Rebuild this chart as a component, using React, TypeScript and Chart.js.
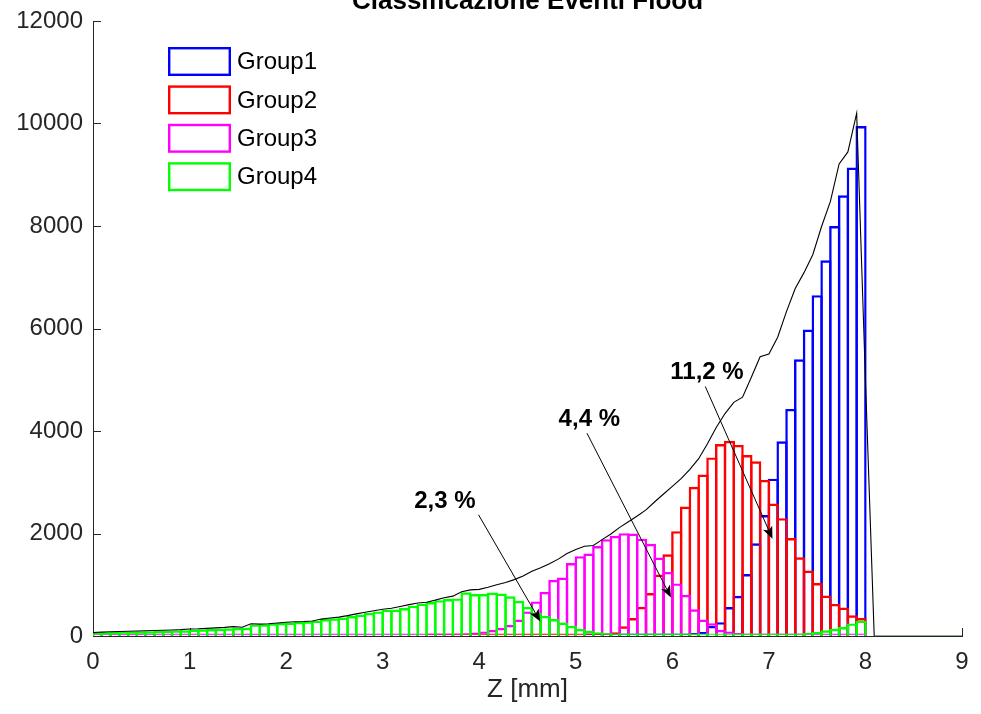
import React, { useEffect, useRef } from "react";
import { Chart, registerables } from "chart.js";

Chart.register(...registerables);

const FONT = '"Liberation Sans", Arial, Helvetica, sans-serif';

const titleText = "Classificazione Eventi Flood";
const xAxisTitle = "Z [mm]";
const groupNames = ["Group1", "Group2", "Group3", "Group4"];
const groupColors = ["#0000ff", "#ff0000", "#ff00ff", "#00ff00"];
const envelopeColor = "#000000";
const envelopeTailColor = "#1e5a1e";

// histogram bins: 88 bins over [0, 8]
const binRange = [0, 8];
const binCount = 88;

const xTicks = [0, 1, 2, 3, 4, 5, 6, 7, 8, 9];
const yTicks = [0, 2000, 4000, 6000, 8000, 10000, 12000];

// Group1 (blue)
const group1 = [
  null, null, null, null, null, null, null, null, null, null,
  null, null, null, null, null, null, null, null, null, null,
  null, null, null, null, null, null, null, null, null, null,
  null, null, null, null, null, null, null, null, null, null,
  null, null, null, null, null, null, null, null, null, null,
  null, null, null, null, null, null, 10, 15, 20, 20,
  20, 15, 15, 15, 20, 25, 30, 40, 60, 80,
  200, 270, 565, 785, 1210, 1810, 2360, 3070, 3800, 4430,
  5400, 5980, 6650, 7330, 8000, 8600, 9140, 9950,
];

// Group2 (red)
const group2 = [
  null, null, null, null, null, null, null, null, null, null,
  null, null, null, null, null, null, null, null, null, null,
  null, null, null, null, null, null, null, null, null, null,
  null, null, null, null, null, null, null, null, 5, 10,
  10, 10, 10, 10, 10, 10, 15, 15, 15, 15,
  15, 20, 20, 20, 20, 25, 30, 40, 50, 75,
  188, 351, 570, 838, 1200, 1595, 2045, 2526, 2910, 3150,
  3485, 3745, 3810, 3728, 3530, 3410, 3046, 2585, 2300, 1910,
  1536, 1276, 1033, 790, 626, 555, 405, 351,
];

// Group3 (magenta)
const group3 = [
  8, 8, 8, 8, 8, 8, 8, 8, 8, 8,
  8, 8, 8, 8, 8, 8, 8, 8, 8, 8,
  8, 8, 8, 8, 8, 8, 8, 8, 8, 8,
  8, 8, 8, 8, 8, 8, 8, 8, 15, 20,
  30, 40, 55, 70, 90, 120, 160, 220, 320, 480,
  675, 860, 1097, 1140, 1423, 1558, 1610, 1755, 1890, 1955,
  2007, 2000, 1900, 1800, 1530, 1250, 1025, 805, 520, 320,
  250, 120, 90, 60, 40, 30, 25, 20, 15, 10,
  10, 10, 10, 10, 10, 10, 10, 10,
];

// Group4 (green)
const group4 = [
  60, 72, 78, 85, 88, 92, 95, 100, 104, 108,
  112, 125, 130, 135, 145, 150, 158, 160, 225, 228,
  245, 255, 262, 275, 285, 300, 330, 345, 360, 390,
  420, 450, 480, 513, 515, 546, 591, 630, 662, 700,
  721, 734, 853, 818, 818, 848, 828, 775, 688, 568,
  450, 395, 330, 262, 200, 138, 103, 72, 55, 45,
  38, 32, 28, 25, 22, 20, 20, 20, 20, 22,
  22, 25, 25, 28, 30, 32, 35, 38, 42, 45,
  50, 60, 80, 110, 140, 175, 245, 300,
];

// black envelope, sampled at bin left edges, continuing to 9
const envelope = [
  65, 75, 82, 88, 92, 97, 102, 107, 112, 118,
  125, 136, 140, 148, 158, 168, 182, 172, 240, 232,
  240, 255, 268, 278, 283, 292, 330, 352, 368, 398,
  432, 462, 492, 522, 540, 575, 612, 645, 660, 700,
  748, 778, 862, 900, 910, 952, 1000, 1045, 1100, 1170,
  1265, 1330, 1410, 1500, 1610, 1690, 1750, 1765, 1880, 1990,
  2120, 2230, 2340, 2460, 2620, 2770, 2920, 3070, 3250, 3460,
  3750, 4070, 4340, 4560, 4660, 5050, 5450, 5500, 5830, 6330,
  6780, 7090, 7440, 7990, 8475, 9210, 9445, 10200, 5000, 0,
  0, 0, 0, 0, 0, 0, 0, 0, 0, 0,
];

// callouts (data coordinates)
const calloutLabels = ["2,3 %", "4,4 %", "11,2 %"];
const calloutTextX = [3.645, 5.14, 6.359];
const calloutTextY = [2623, 4222, 5142];
const calloutTailX = [3.993, 5.116, 6.341];
const calloutTailY = [2365, 3957, 4869];
const calloutHeadX = [4.632, 5.986, 7.037];
const calloutHeadY = [285, 752, 1900];

export default function App() {
  const canvasRef = useRef<HTMLCanvasElement | null>(null);

  useEffect(() => {
    const canvas = canvasRef.current;
    if (!canvas) return;

    const binWidth = (binRange[1] - binRange[0]) / binCount;
    const centers = group4.map((_, i) => binRange[0] + (i + 0.5) * binWidth);
    const toPoints = (vals: (number | null)[]) =>
      vals
        .map((v, i) => (v === null ? null : { x: centers[i], y: v }))
        .filter((p) => p !== null);
    const envPoints = envelope.map((v, i) => ({ x: binRange[0] + i * binWidth, y: v }));

    const barStyle = {
      backgroundColor: "rgba(0,0,0,0)",
      borderWidth: 2.4,
      borderSkipped: "start",
      grouped: false,
      barPercentage: 1.273,
      categoryPercentage: 1,
      minBarLength: 2.4,
    };

    const overlay = {
      id: "overlay",
      beforeDatasetsDraw(chart: any) {
        const { ctx, chartArea, scales } = chart;
        const xs = scales.x;
        const ys = scales.y;
        ctx.save();
        ctx.strokeStyle = "#262626";
        ctx.lineWidth = 1;
        ctx.beginPath();
        yTicks.forEach((v) => {
          const py = Math.round(ys.getPixelForValue(v)) + 0.5;
          ctx.moveTo(chartArea.left, py);
          ctx.lineTo(chartArea.left + 8, py);
        });
        xTicks.forEach((v) => {
          const px = Math.round(xs.getPixelForValue(v)) + 0.5;
          ctx.moveTo(px, chartArea.bottom);
          ctx.lineTo(px, chartArea.bottom - 8);
        });
        ctx.stroke();
        ctx.restore();
      },
      afterDraw(chart: any) {
        const { ctx, chartArea, scales } = chart;
        const xs = scales.x;
        const ys = scales.y;
        ctx.save();

        // title (partly cut off at the top, as in the reference)
        ctx.fillStyle = "#000";
        ctx.font = `bold 26px ${FONT}`;
        ctx.textAlign = "center";
        ctx.textBaseline = "alphabetic";
        ctx.fillText(titleText, (chartArea.left + chartArea.right) / 2, 9);

        // x axis title
        ctx.fillStyle = "#262626";
        ctx.font = `26px ${FONT}`;
        ctx.textBaseline = "middle";
        ctx.fillText(xAxisTitle, (chartArea.left + chartArea.right) / 2, 690);

        // callouts
        calloutLabels.forEach((label, k) => {
          const tx = xs.getPixelForValue(calloutTextX[k]);
          const ty = ys.getPixelForValue(calloutTextY[k]);
          ctx.fillStyle = "#000";
          ctx.font = `bold 24px ${FONT}`;
          ctx.textAlign = "center";
          ctx.textBaseline = "middle";
          ctx.fillText(label, tx, ty);

          const x1 = xs.getPixelForValue(calloutTailX[k]);
          const y1 = ys.getPixelForValue(calloutTailY[k]);
          const x2 = xs.getPixelForValue(calloutHeadX[k]);
          const y2 = ys.getPixelForValue(calloutHeadY[k]);
          const ang = Math.atan2(y2 - y1, x2 - x1);
          const headLen = 12;
          const headW = 5;
          const bx = x2 - headLen * Math.cos(ang);
          const by = y2 - headLen * Math.sin(ang);
          const nx = x2 - headLen * 0.75 * Math.cos(ang);
          const ny = y2 - headLen * 0.75 * Math.sin(ang);
          ctx.strokeStyle = "#000";
          ctx.lineWidth = 1;
          ctx.beginPath();
          ctx.moveTo(x1, y1);
          ctx.lineTo(nx, ny);
          ctx.stroke();
          ctx.beginPath();
          ctx.moveTo(x2, y2);
          ctx.lineTo(bx + headW * Math.sin(ang), by - headW * Math.cos(ang));
          ctx.lineTo(nx, ny);
          ctx.lineTo(bx - headW * Math.sin(ang), by + headW * Math.cos(ang));
          ctx.closePath();
          ctx.fill();
        });

        // legend
        const lx = chartArea.left + 75;
        const ly = chartArea.top + 26;
        const rw = 63;
        const rh = 29;
        const pitch = 38.4;
        ctx.font = `24px ${FONT}`;
        ctx.textAlign = "left";
        ctx.textBaseline = "middle";
        groupNames.forEach((name, k) => {
          const top = ly + k * pitch;
          ctx.fillStyle = "#ffffff";
          ctx.fillRect(lx, top, rw, rh);
          ctx.strokeStyle = groupColors[k];
          ctx.lineWidth = 2.4;
          ctx.strokeRect(lx + 1.2, top + 1.2, rw - 2.4, rh - 2.4);
          ctx.fillStyle = "#000";
          ctx.fillText(name, lx + rw + 6, top + rh / 2 + 1);
        });

        ctx.restore();
      },
    };

    const tickFont = { family: FONT, size: 24 };

    const chart = new Chart(canvas, {
      type: "bar",
      data: {
        datasets: [
          {
            type: "line",
            label: "Total",
            data: envPoints,
            borderColor: envelopeColor,
            borderWidth: 1.1,
            pointRadius: 0,
            tension: 0,
            order: 0,
            segment: {
              borderColor: (c: any) => (c.p0.parsed.x > binRange[1] + 0.05 ? envelopeTailColor : undefined),
            },
          } as any,
          { label: groupNames[3], data: toPoints(group4), borderColor: groupColors[3], order: 1, ...barStyle } as any,
          { label: groupNames[2], data: toPoints(group3), borderColor: groupColors[2], order: 2, ...barStyle } as any,
          { label: groupNames[1], data: toPoints(group2), borderColor: groupColors[1], order: 3, ...barStyle } as any,
          { label: groupNames[0], data: toPoints(group1), borderColor: groupColors[0], order: 4, ...barStyle } as any,
        ],
      },
      options: {
        animation: false,
        responsive: false,
        devicePixelRatio: 1,
        layout: { padding: { top: 21, right: 19, bottom: 0, left: 0 } },
        plugins: {
          legend: { display: false },
          tooltip: { enabled: false },
          title: { display: false },
        },
        scales: {
          x: {
            type: "linear",
            min: 0,
            max: 9,
            offset: false,
            grid: { display: false },
            border: { display: true, color: "#262626", width: 1 },
            afterBuildTicks: (s: any) => {
              s.ticks = xTicks.map((v) => ({ value: v }));
            },
            ticks: {
              font: tickFont,
              color: "#262626",
              padding: 4,
              maxRotation: 0,
              autoSkip: false,
              callback: (v: any) => String(v),
            },
            afterFit: (s: any) => {
              s.height = 78;
            },
          },
          y: {
            type: "linear",
            min: 0,
            max: 12000,
            grid: { display: false },
            border: { display: true, color: "#262626", width: 1 },
            afterBuildTicks: (s: any) => {
              s.ticks = yTicks.map((v) => ({ value: v }));
            },
            ticks: {
              font: tickFont,
              color: "#262626",
              padding: 2,
              autoSkip: false,
              callback: (v: any) => String(v),
            },
            afterFit: (s: any) => {
              s.width = 93;
            },
          },
        },
      } as any,
      plugins: [overlay],
    });

    return () => {
      chart.destroy();
    };
  }, []);

  return (
    <div style={{ position: "fixed", left: 0, top: 0, width: 981, height: 714, background: "#fff" }}>
      <canvas ref={canvasRef} width={981} height={714} style={{ display: "block" }} />
    </div>
  );
}
